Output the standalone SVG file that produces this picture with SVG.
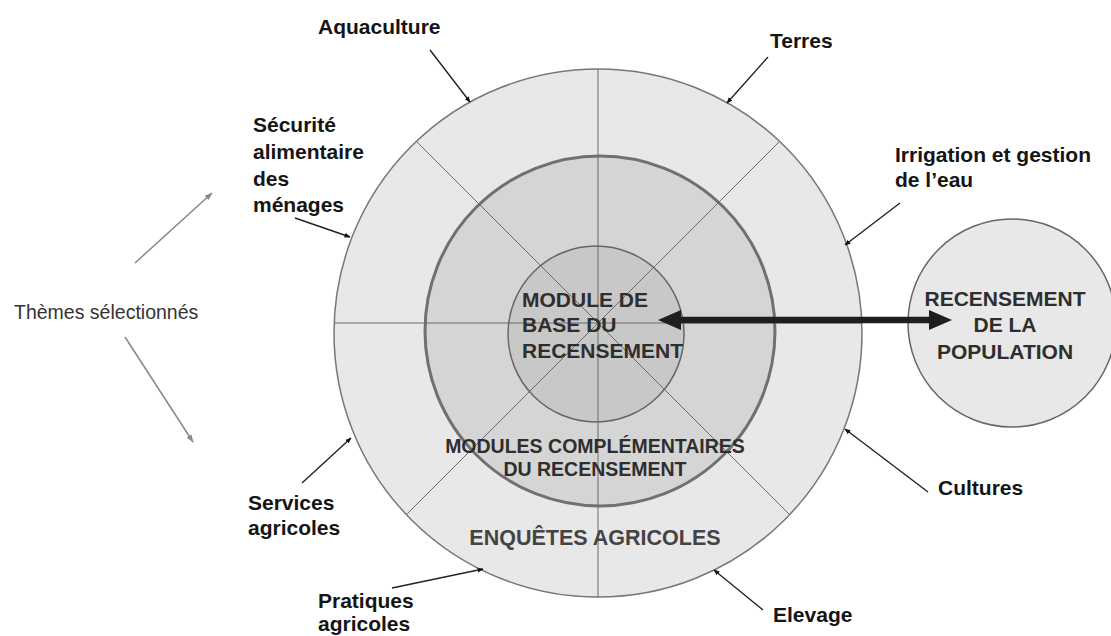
<svg xmlns="http://www.w3.org/2000/svg" width="1111" height="636" viewBox="0 0 1111 636">
<style>
.lbl{font-family:"Liberation Sans",Arial,sans-serif;font-weight:bold;font-size:21px;fill:#151515}
.ctr{font-family:"Liberation Sans",Arial,sans-serif;font-weight:bold;font-size:21px;fill:#2e2e2e}
.thm{font-family:"Liberation Sans",Arial,sans-serif;font-size:19.5px;fill:#333}
.div{stroke:#6a6a6a;stroke-width:1;fill:none}
.lead{stroke:#222;stroke-width:1.4;fill:none;marker-end:url(#dot)}
.thema{stroke:#888;stroke-width:1.5;fill:none;marker-end:url(#gr)}
.big{fill:#1e1e1e}
</style>
<defs>
<marker id="dot" viewBox="0 0 10 10" refX="9" refY="5" markerWidth="6" markerHeight="6" orient="auto" markerUnits="userSpaceOnUse"><path d="M0,1 L10,5 L0,9 z" fill="#111"/></marker>
<marker id="gr" viewBox="0 0 10 10" refX="9" refY="5" markerWidth="8" markerHeight="8" orient="auto" markerUnits="userSpaceOnUse"><path d="M0,1.5 L10,5 L0,8.5 z" fill="#888"/></marker>
<clipPath id="oc"><circle cx="598" cy="333" r="264"/></clipPath>
</defs>
<rect width="1111" height="636" fill="#fff"/>

<g id="outer-ring">
<circle cx="598" cy="333" r="264" fill="#e8e8e8" stroke="#777" stroke-width="1.5"/>
</g>
<g id="modules-complementaires">
<circle cx="600" cy="331" r="175" fill="#d5d5d5" stroke="#707070" stroke-width="3"/>
</g>
<g id="module-base">
<circle cx="596" cy="334" r="88" fill="#c8c8c8" stroke="#666" stroke-width="1.5"/>
</g>
<g id="dividers" clip-path="url(#oc)">
<line class="div" x1="598" y1="60" x2="598" y2="600"/>
<line class="div" x1="330" y1="323" x2="866" y2="323"/>
<line class="div" x1="328" y1="53" x2="868" y2="593"/>
<line class="div" x1="868" y1="53" x2="328" y2="593"/>
</g>
<g id="population">
<circle cx="1012" cy="323" r="104" fill="#e8e8e8" stroke="#666" stroke-width="1.5"/>
</g>

<g id="center-texts">
<text class="ctr" x="522" y="307">MODULE DE</text>
<text class="ctr" x="522" y="332">BASE DU</text>
<text class="ctr" x="522" y="358">RECENSEMENT</text>
<text class="ctr" x="595" y="453" text-anchor="middle" style="font-size:19.5px">MODULES COMPLÉMENTAIRES</text>
<text class="ctr" x="595" y="476" text-anchor="middle" style="font-size:19.5px">DU RECENSEMENT</text>
<text class="ctr" x="595" y="545" text-anchor="middle" style="font-size:21.5px;fill:#444">ENQUÊTES AGRICOLES</text>
<text class="ctr" x="1005" y="306" text-anchor="middle">RECENSEMENT</text>
<text class="ctr" x="1005" y="332" text-anchor="middle">DE LA</text>
<text class="ctr" x="1005" y="359" text-anchor="middle">POPULATION</text>
</g>

<g id="connectors">
<line x1="676" y1="320" x2="934" y2="320" stroke="#1e1e1e" stroke-width="6.5"/>
<path class="big" d="M658,320 L681,310 L681,330 z"/>
<path class="big" d="M952,320 L929,310 L929,330 z"/>
<line class="lead" x1="430" y1="50" x2="470" y2="102"/>
<line class="lead" x1="768" y1="57" x2="727" y2="103"/>
<line class="lead" x1="900" y1="203" x2="845" y2="245"/>
<line class="lead" x1="295" y1="218" x2="350" y2="237"/>
<line class="lead" x1="302" y1="483" x2="351" y2="438"/>
<line class="lead" x1="392" y1="588" x2="483" y2="569"/>
<line class="lead" x1="763" y1="610" x2="714" y2="570"/>
<line class="lead" x1="928" y1="492" x2="845" y2="429"/>
<line class="thema" x1="135" y1="263" x2="212" y2="193"/>
<line class="thema" x1="125" y1="337" x2="193" y2="442"/>
</g>

<g id="labels">
<text class="lbl" x="318" y="34">Aquaculture</text>
<text class="lbl" x="770" y="48">Terres</text>
<text class="lbl" x="895" y="162">Irrigation et gestion</text>
<text class="lbl" x="895" y="187">de l’eau</text>
<text class="lbl" x="253" y="132">Sécurité</text>
<text class="lbl" x="253" y="159">alimentaire</text>
<text class="lbl" x="253" y="186">des</text>
<text class="lbl" x="253" y="212">ménages</text>
<text class="thm" x="14" y="319">Thèmes sélectionnés</text>
<text class="lbl" x="248" y="510">Services</text>
<text class="lbl" x="248" y="535">agricoles</text>
<text class="lbl" x="318" y="608">Pratiques</text>
<text class="lbl" x="318" y="631">agricoles</text>
<text class="lbl" x="773" y="622">Elevage</text>
<text class="lbl" x="938" y="495">Cultures</text>
</g>
</svg>
